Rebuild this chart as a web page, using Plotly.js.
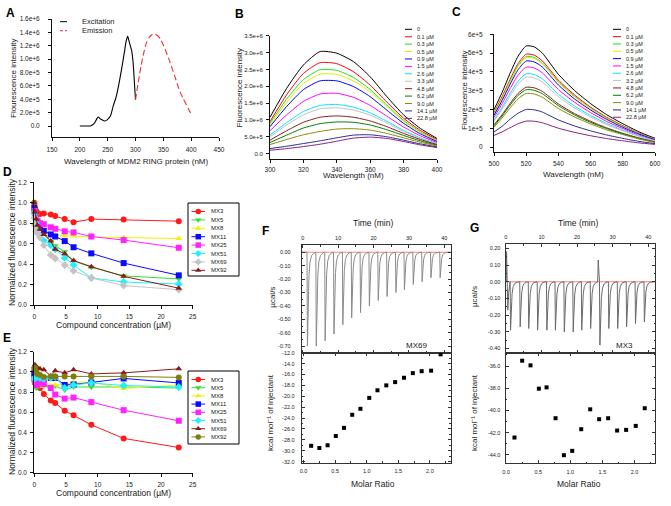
<!DOCTYPE html>
<html><head><meta charset="utf-8">
<script src="https://cdn.plot.ly/plotly-3.0.1.min.js"></script>
<style>html,body{margin:0;padding:0;background:#fff}#chart{width:671px;height:506px}</style>
</head><body><div id="chart"></div><script>
// ---------------- DATA ----------------
// Panel A (intensity in units of 1e6)
const A_exc_wl = [200,210,215,220,226,230,233,238,245,250,255,260,265,270,275,280,283,286,289,291,293,296,298,300];
const A_exc_val = [0,0,0,0.005,0.04,0.1,0.135,0.1,0.075,0.1,0.15,0.3,0.43,0.62,0.85,1.1,1.26,1.34,1.25,1.19,1.13,0.92,0.65,0.39];
const A_em_wl = [300,305,310,315,320,325,330,335,340,345,350,355,360,365,370,375,380,385,390,395,400];
const A_em_val = [0.39,0.66,0.9,1.1,1.25,1.33,1.37,1.375,1.35,1.3,1.21,1.11,1.0,0.88,0.76,0.63,0.51,0.42,0.34,0.26,0.18];
const A_xticks = [150,200,250,300,350,400,450];
const A_yticks = [0,0.2,0.4,0.6,0.8,1.0,1.2,1.4,1.6];
const A_yticktext = ["0.0","2.0e+5","4.0e+5","6.0e+5","8.0e+5","1.0e+6","1.2e+6","1.4e+6","1.6e+6"];

// Panel B (intensity in units of 1e6)
const B_wl = [300,310,320,330,340,350,360,370,380,390,400];
const B_0    = [1.08,1.94,2.63,3.03,2.98,2.73,2.28,1.69,1.15,0.75,0.45];
const B_0_1  = [0.95,1.75,2.38,2.70,2.67,2.43,2.03,1.53,1.05,0.69,0.42];
const B_0_3  = [0.90,1.62,2.20,2.49,2.47,2.26,1.90,1.44,0.99,0.65,0.39];
const B_0_5  = [0.85,1.52,2.08,2.36,2.35,2.16,1.83,1.39,0.96,0.63,0.38];
const B_0_9  = [0.80,1.40,1.90,2.16,2.16,1.99,1.69,1.29,0.90,0.59,0.36];
const B_1_5  = [0.68,1.15,1.55,1.77,1.79,1.67,1.43,1.11,0.79,0.53,0.33];
const B_2_6  = [0.55,0.92,1.25,1.43,1.46,1.38,1.21,0.96,0.69,0.47,0.30];
const B_3_3  = [0.50,0.85,1.15,1.33,1.36,1.29,1.14,0.91,0.66,0.45,0.29];
const B_4_8  = [0.40,0.68,0.93,1.08,1.12,1.08,0.97,0.80,0.60,0.42,0.27];
const B_6_2  = [0.33,0.55,0.76,0.89,0.94,0.93,0.85,0.71,0.54,0.38,0.25];
const B_9_0  = [0.27,0.42,0.56,0.66,0.73,0.74,0.70,0.60,0.47,0.34,0.23];
const B_14_1 = [0.15,0.22,0.30,0.38,0.47,0.55,0.56,0.50,0.40,0.29,0.20];
const B_22_8 = [0.10,0.15,0.21,0.28,0.37,0.46,0.49,0.45,0.36,0.26,0.18];
const B_labels = ["0","0.1 µM","0.3 µM","0.5 µM","0.9 µM","1.5 µM","2.6 µM","3.3 µM","4.8 µM","6.2 µM","9.0 µM","14.1 µM","22.8 µM"];
const B_yticks = [0,0.5,1.0,1.5,2.0,2.5,3.0,3.5];
const B_yticktext = ["0.0","5.0e+5","1.0e+6","1.5e+6","2.0e+6","2.5e+6","3.0e+6","3.5e+6"];
const B_xticks = [300,320,340,360,380,400];

// Panel C (intensity in units of 1e5)
const C_wl = [500,505,510,515,520,525,530,540,550,560,570,580,590,600];
const C_0    = [1.99,2.90,3.93,4.84,5.38,5.33,5.00,3.87,3.01,2.31,1.72,1.24,0.81,0.46];
const C_0_1  = [1.83,2.67,3.60,4.45,4.94,4.89,4.59,3.56,2.77,2.12,1.58,1.14,0.74,0.42];
const C_0_3  = [1.78,2.60,3.52,4.34,4.82,4.77,4.48,3.47,2.70,2.07,1.54,1.11,0.72,0.41];
const C_0_5  = [1.76,2.57,3.47,4.28,4.76,4.71,4.43,3.43,2.67,2.05,1.52,1.09,0.71,0.40];
const C_0_9  = [1.69,2.47,3.34,4.12,4.58,4.53,4.26,3.30,2.56,1.97,1.47,1.05,0.69,0.39];
const C_1_5  = [1.57,2.30,3.10,3.83,4.25,4.21,3.95,3.06,2.38,1.83,1.36,0.98,0.64,0.36];
const C_2_6  = [1.44,2.11,2.85,3.51,3.90,3.86,3.63,2.81,2.18,1.68,1.25,0.90,0.59,0.33];
const C_3_2  = [1.38,2.01,2.72,3.35,3.72,3.68,3.46,2.68,2.08,1.60,1.19,0.86,0.56,0.32];
const C_4_8  = [1.18,1.72,2.32,2.86,3.18,3.15,2.96,2.29,1.78,1.37,1.02,0.73,0.48,0.27];
const C_6_2  = [1.13,1.65,2.23,2.75,3.05,3.02,2.84,2.20,1.71,1.31,0.98,0.70,0.46,0.26];
const C_9_0  = [1.05,1.54,2.08,2.57,2.85,2.82,2.65,2.05,1.60,1.23,0.91,0.66,0.43,0.24];
const C_14_1 = [0.80,1.10,1.48,1.80,2.00,1.98,1.86,1.44,1.12,0.86,0.64,0.46,0.30,0.18];
const C_22_8 = [0.62,0.80,1.03,1.24,1.38,1.37,1.29,1.00,0.78,0.60,0.45,0.33,0.22,0.14];
const C_labels = ["0","0.1 µM","0.3 µM","0.5 µM","0.9 µM","1.5 µM","2.6 µM","3.2 µM","4.8 µM","6.2 µM","9.0 µM","14.1 µM","22.8 µM"];
const C_xticks = [500,520,540,560,580,600];
const C_yticks = [0,1,2,3,4,5,6];
const C_yticktext = ["0","1e+5","2e+5","3e+5","4e+5","5e+5","6e+5"];

// Panels D and E
const DE_conc = [0,0.1,0.3,0.5,0.9,1.5,2.6,3.3,4.8,6.2,9.0,14.1,22.8];
const D_MX3  = [1.0,0.95,0.92,0.90,0.89,0.895,0.885,0.87,0.84,0.81,0.84,0.835,0.82];
const D_MX5  = [1.0,0.93,0.87,0.83,0.76,0.70,0.62,0.58,0.52,0.43,0.37,0.285,0.255];
const D_MX8  = [1.0,0.90,0.82,0.78,0.74,0.71,0.69,0.69,0.675,0.675,0.665,0.66,0.65];
const D_MX11 = [0.95,0.88,0.82,0.79,0.755,0.725,0.69,0.67,0.625,0.565,0.505,0.41,0.29];
const D_MX25 = [0.92,0.88,0.85,0.82,0.80,0.79,0.76,0.745,0.72,0.71,0.67,0.635,0.56];
const D_MX51 = [0.90,0.85,0.80,0.75,0.68,0.63,0.585,0.545,0.46,0.39,0.265,0.225,0.205];
const D_MX69 = [0.85,0.78,0.72,0.70,0.66,0.585,0.49,0.455,0.39,0.335,0.265,0.19,0.15];
const D_MX92 = [1.0,0.91,0.84,0.78,0.74,0.69,0.625,0.545,0.50,0.435,0.375,0.28,0.165];
const E_MX3  = [1.0,0.92,0.88,0.85,0.84,0.78,0.715,0.69,0.615,0.57,0.475,0.34,0.25];
const E_MX5  = [0.95,0.88,0.84,0.85,0.86,0.86,0.84,0.86,0.82,0.85,0.85,0.85,0.84];
const E_MX8  = [0.95,0.90,0.88,0.87,0.86,0.86,0.865,0.87,0.875,0.895,0.90,0.835,0.87];
const E_MX11 = [0.98,0.95,0.92,0.93,0.94,0.93,0.94,0.94,0.87,0.875,0.895,0.935,0.89];
const E_MX25 = [0.93,0.90,0.88,0.87,0.89,0.88,0.84,0.775,0.735,0.745,0.70,0.62,0.515];
const E_MX51 = [0.93,0.94,0.95,0.95,0.94,0.93,0.94,0.95,0.84,0.87,0.89,0.865,0.85];
const E_MX69 = [1.05,1.07,1.05,1.04,1.03,1.02,0.96,1.01,0.99,1.02,0.98,0.99,1.03];
const E_MX92 = [1.02,1.04,1.0,0.98,0.97,0.95,0.955,0.955,0.955,0.955,0.955,0.955,0.945];
const DE_names = ["MX3","MX5","MX8","MX11","MX25","MX51","MX69","MX92"];
const DE_xticks = [0,5,10,15,20,25];
const DE_yticks = [0,0.2,0.4,0.6,0.8,1.0,1.2];
const DE_yticktext = ["0.0","0.2","0.4","0.6","0.8","1.0","1.2"];

// Panel F (ITC, MX69)
const F_inj_time = [1.2,3.7,6.2,8.7,11.2,13.7,16.2,18.7,21.2,23.7,26.2,28.6,31.1,33.6,36.1,38.7];
const F_inj_peak = [-0.70,-0.70,-0.66,-0.61,-0.54,-0.49,-0.45,-0.40,-0.36,-0.33,-0.30,-0.28,-0.24,-0.22,-0.19,-0.19];
const F_ratio = [0.12,0.25,0.38,0.51,0.64,0.77,0.90,1.04,1.17,1.31,1.45,1.59,1.73,1.87,2.02,2.17];
const F_heat  = [-29.1,-29.5,-29.0,-27.3,-25.8,-23.4,-22.3,-20.3,-18.9,-18.0,-17.4,-16.6,-15.75,-15.4,-15.3,-12.3];
const F_uticks = [0,-0.1,-0.2,-0.3,-0.4,-0.5,-0.6,-0.7];
const F_utext = ["0.00","-0.10","-0.20","-0.30","-0.40","-0.50","-0.60","-0.70"];
const F_lticks = [-12,-14,-16,-18,-20,-22,-24,-26,-28,-30,-32];
const F_ltext = ["-12.0","-14.0","-16.0","-18.0","-20.0","-22.0","-24.0","-26.0","-28.0","-30.0","-32.0"];

// Panel G (ITC, MX3)
const G_inj_time = [1.2,3.9,6.3,8.8,11.4,13.8,16.3,18.8,21.2,23.7,26.3,28.8,31.3,33.8,36.3,38.8];
const G_inj_peak = [-0.29,-0.27,-0.28,-0.29,-0.29,-0.29,-0.30,-0.30,-0.29,-0.28,-0.38,-0.28,-0.28,-0.27,-0.25,-0.24];
const G_noise_time = [0.1,0.2,0.35,0.55,0.75,0.95,25.8,25.95,26.1];
const G_noise_val  = [0.0,0.18,0.02,-0.17,-0.07,-0.04,0.0,0.13,0.0];
const G_ratio = [0.13,0.25,0.38,0.51,0.63,0.77,0.90,1.03,1.17,1.31,1.45,1.59,1.73,1.87,2.02,2.16];
const G_heat  = [-42.44,-35.52,-35.94,-38.04,-37.92,-40.7,-44.03,-43.64,-41.69,-39.9,-40.79,-40.7,-41.81,-41.75,-41.39,-39.8];
const G_uticks = [0.2,0.1,0,-0.1,-0.2,-0.3,-0.4];
const G_utext = ["0.20","0.10","0.00","-0.10","-0.20","-0.30","-0.40"];
const G_lticks = [-36,-38,-40,-42,-44];
const G_ltext = ["-36.0","-38.0","-40.0","-42.0","-44.0"];
const ITC_time_ticks = [0,10,20,30,40];
const ITC_ratio_ticks = [0,0.5,1.0,1.5,2.0];
const ITC_ratio_text = ["0.0","0.5","1.0","1.5","2.0"];

// ---------------- STYLE / BUILD ----------------
const W=671,H=506;
const FONT='Arial, "Liberation Sans", sans-serif';
const px=v=>v/W, py=v=>1-v/H;
const dx=(a,b)=>[a/W,b/W], dy=(a,b)=>[1-b/H,1-a/H];
const traces=[], annotations=[], shapes=[];
const specColors=['#000000','#ff0000','#22dd22','#e8e800','#0000ff','#ff00ff','#00e5ff','#c0c0c0','#8b1a1a','#007a00','#8a8a00','#2a2a8a','#8a1a8a'];

function line(x,y,xa,ya,color,width,extra){
  traces.push(Object.assign({x,y,xaxis:xa,yaxis:ya,mode:'lines',line:{color,width,shape:'spline',smoothing:0.6},hoverinfo:'skip',showlegend:false},extra||{}));
}
function txt(text,x,y,size,opts){
  annotations.push(Object.assign({text,x:px(x),y:py(y),xref:'paper',yref:'paper',showarrow:false,
    font:{family:FONT,size,color:'#1a1a1a'},xanchor:'center',yanchor:'middle'},opts||{}));
}
function key(x0,x1,y,color,dash,marker){
  traces.push({x:[x0,x1],y:[y,y],xaxis:'x10',yaxis:'y10',mode:'lines',line:{color,width:1,dash:dash||'solid'},hoverinfo:'skip',showlegend:false});
  if(marker) traces.push({x:[(x0+x1)/2],y:[y],xaxis:'x10',yaxis:'y10',mode:'markers',marker:marker,hoverinfo:'skip',showlegend:false});
}

// A
line(A_exc_wl,A_exc_val,'x','y','#000',1.1);
line(A_em_wl,A_em_val,'x','y','#e8322e',1.1,{line:{color:'#e8322e',width:1.1,dash:'6px,3px',shape:'spline',smoothing:0.6}});
key(60,67,21.7,'#000');
key(60,67,30.7,'#e8322e','3px,2px');
txt('Excitation',80,21.7,7.5,{xanchor:'left'});
txt('Emission',80,30.7,7.5,{xanchor:'left'});

// B
const B_series=[B_0,B_0_1,B_0_3,B_0_5,B_0_9,B_1_5,B_2_6,B_3_3,B_4_8,B_6_2,B_9_0,B_14_1,B_22_8];
B_series.forEach((s,i)=>line(B_wl,s,'x2','y2',specColors[i],1));
B_labels.forEach((lab,i)=>{const y=29.3+i*7.42; key(405,412,y,specColors[i]); txt(lab,415,y,5.5,{xanchor:'left'});});

// C
const C_series=[C_0,C_0_1,C_0_3,C_0_5,C_0_9,C_1_5,C_2_6,C_3_2,C_4_8,C_6_2,C_9_0,C_14_1,C_22_8];
C_series.forEach((s,i)=>line(C_wl,s,'x3','y3',specColors[i],1));
C_labels.forEach((lab,i)=>{const y=29.3+i*7.33; key(613,621,y,specColors[i]); txt(lab,623.5,y,5.5,{xanchor:'left'});});

// D & E
const D_series=[D_MX3,D_MX5,D_MX8,D_MX11,D_MX25,D_MX51,D_MX69,D_MX92];
const E_series=[E_MX3,E_MX5,E_MX8,E_MX11,E_MX25,E_MX51,E_MX69,E_MX92];
const D_sty=[['#ff1a1a','circle'],['#33dd33','triangle-down'],['#f2f200','triangle-up'],['#0a0aff','square'],['#ff22ff','square'],['#22f0ff','diamond'],['#c4c4c4','diamond'],['#8b1a1a','triangle-up']];
const E_sty=[['#ff1a1a','circle'],['#33dd33','triangle-down'],['#f2f200','triangle-up'],['#0a0aff','square'],['#ff22ff','square'],['#22f0ff','diamond'],['#8b1a1a','triangle-up'],['#7f7f10','circle']];
function dePanel(series,sty,xa,ya,legTop,step){
  series.forEach((s,i)=>{
    traces.push({x:DE_conc,y:s,xaxis:xa,yaxis:ya,mode:'lines+markers',line:{color:sty[i][0],width:1},
      marker:{color:sty[i][0],symbol:sty[i][1],size:6},cliponaxis:false,hoverinfo:'skip',showlegend:false});
  });
  series.forEach((s,i)=>{const y=legTop+i*step; key(191.5,205,y,sty[i][0],null,{color:sty[i][0],symbol:sty[i][1],size:5.5}); txt(DE_names[i],208.5,y,6,{xanchor:'left'});});
}
dePanel(D_series,D_sty,'x4','y4',211.5,8.4);
shapes.push({type:'rect',xref:'paper',yref:'paper',x0:px(188),x1:px(239),y0:py(203),y1:py(276),line:{color:'#000',width:1}});
dePanel(E_series,E_sty,'x5','y5',379.5,8.2);
shapes.push({type:'rect',xref:'paper',yref:'paper',x0:px(188),x1:px(239),y0:py(371),y1:py(444),line:{color:'#000',width:1}});

// ITC raw traces built from injection times/peak heights
const spikeShape=[[0,0],[0.12,1],[0.3,0.55],[0.55,0.25],[0.85,0.1],[1.3,0.035],[1.9,0.01]];
function itc(times,peaks,extraT,extraV){
  const pts=[[-0.3,0],[41.8,0]];
  times.forEach((t,i)=>spikeShape.forEach(([d,f])=>pts.push([t+d,peaks[i]*f])));
  (extraT||[]).forEach((t,i)=>pts.push([t,extraV[i]]));
  pts.sort((a,b)=>a[0]-b[0]);
  return {x:pts.map(p=>p[0]),y:pts.map(p=>p[1])};
}
const Fr=itc(F_inj_time,F_inj_peak);
traces.push({x:[-0.3,41.8],y:[0,0],xaxis:'x6',yaxis:'y6',mode:'lines',line:{color:'#ff8080',width:1},hoverinfo:'skip',showlegend:false});
traces.push({x:Fr.x,y:Fr.y,xaxis:'x6',yaxis:'y6',mode:'lines',line:{color:'#8a8a8a',width:1},hoverinfo:'skip',showlegend:false});
traces.push({x:F_ratio,y:F_heat,xaxis:'x7',yaxis:'y7',mode:'markers',marker:{color:'#000',symbol:'square',size:4},cliponaxis:false,hoverinfo:'skip',showlegend:false});
const Gr=itc(G_inj_time,G_inj_peak,G_noise_time,G_noise_val);
traces.push({x:[-0.1,41.9],y:[0,0],xaxis:'x8',yaxis:'y8',mode:'lines',line:{color:'#ff8080',width:1},hoverinfo:'skip',showlegend:false});
traces.push({x:Gr.x,y:Gr.y,xaxis:'x8',yaxis:'y8',mode:'lines',line:{color:'#6a6a6a',width:1},hoverinfo:'skip',showlegend:false});
traces.push({x:G_ratio,y:G_heat,xaxis:'x9',yaxis:'y9',mode:'markers',marker:{color:'#000',symbol:'square',size:4},cliponaxis:false,hoverinfo:'skip',showlegend:false});

// axes
function ax(domain,range,tickvals,ticktext,extra){
  return Object.assign({domain,range,tickmode:'array',tickvals,ticktext:ticktext||tickvals.map(String),showline:true,linecolor:'#111',linewidth:1,
    ticks:'outside',ticklen:3,tickwidth:1,tickcolor:'#111',showgrid:false,zeroline:false,fixedrange:true,
    tickfont:{family:FONT,size:6.5,color:'#222'}},extra||{});
}
function itcAx(domain,range,tickvals,ticktext,minor,extra){
  return ax(domain,range,tickvals,ticktext,Object.assign({ticks:'inside',ticklen:3,mirror:'ticks',linecolor:'#333',tickcolor:'#333',
    tickfont:{family:FONT,size:5.5,color:'#222'},minor:{dtick:minor,ticks:'inside',ticklen:1.5,tickcolor:'#333'}},extra||{}));
}
const layout={
  width:W,height:H,margin:{l:0,r:0,t:0,b:0},paper_bgcolor:'#fff',plot_bgcolor:'rgba(0,0,0,0)',showlegend:false,
  font:{family:FONT},
  xaxis: ax(dx(52,219),[150,450],A_xticks,null,{anchor:'y',ticklabelstandoff:3}),
  yaxis: ax(dy(19,137),[-0.164,1.6],A_yticks,A_yticktext,{anchor:'x',ticklabelstandoff:7}),
  xaxis2:ax(dx(270,437),[300,400],B_xticks,null,{anchor:'y2',ticklabelstandoff:1}),
  yaxis2:ax(dy(35.7,158.7),[-0.15,3.5],B_yticks,B_yticktext,{anchor:'x2',ticklabelstandoff:2,tickfont:{family:FONT,size:6,color:'#222'}}),
  xaxis3:ax(dx(494,655),[500,600],C_xticks,null,{anchor:'y3',ticklabelstandoff:2}),
  yaxis3:ax(dy(34.3,151.7),[-0.25,6],C_yticks,C_yticktext,{anchor:'x3',ticklabelstandoff:6}),
  xaxis4:ax(dx(34.3,192.7),[0,25],DE_xticks,null,{anchor:'y4',ticklabelstandoff:2}),
  yaxis4:ax(dy(182.3,305),[0,1.2],DE_yticks,DE_yticktext,{anchor:'x4',ticklabelstandoff:2}),
  xaxis5:ax(dx(34.3,192.7),[0,25],DE_xticks,null,{anchor:'y5',ticklabelstandoff:2}),
  yaxis5:ax(dy(351.7,472.7),[0,1.2],DE_yticks,DE_yticktext,{anchor:'x5',ticklabelstandoff:2}),
  xaxis6:itcAx(dx(301.7,450.7),[-0.3,41.8],ITC_time_ticks,null,5,{anchor:'y6',side:'top',ticklabelstandoff:2}),
  yaxis6:itcAx(dy(245,352.7),[-0.749,0.054],F_uticks,F_utext,0.05,{anchor:'x6',ticklabelstandoff:9}),
  xaxis7:itcAx(dx(301.7,450.7),[-0.03,2.33],ITC_ratio_ticks,ITC_ratio_text,0.25,{anchor:'y7',ticklabelstandoff:3}),
  yaxis7:itcAx(dy(352.7,462.7),[-32.2,-12.0],F_lticks,F_ltext,1,{anchor:'x7',ticklabelstandoff:5}),
  xaxis8:itcAx(dx(505.5,655),[-0.1,41.9],ITC_time_ticks,null,5,{anchor:'y8',side:'top',ticklabelstandoff:2}),
  yaxis8:itcAx(dy(244,352.7),[-0.425,0.226],G_uticks,G_utext,0.05,{anchor:'x8',ticklabelstandoff:3}),
  xaxis9:itcAx(dx(505.5,655),[-0.01,2.32],ITC_ratio_ticks,ITC_ratio_text,0.25,{anchor:'y9',ticklabelstandoff:3}),
  yaxis9:itcAx(dy(352.7,463.3),[-44.76,-34.8],G_lticks,G_ltext,1,{anchor:'x9',ticklabelstandoff:3}),
  xaxis10:{domain:[0,1],range:[0,W],visible:false,fixedrange:true,anchor:'y10'},
  yaxis10:{domain:[0,1],range:[H,0],visible:false,fixedrange:true,anchor:'x10'},
  annotations,shapes
};

// titles and labels
txt('Wavelength of MDM2 RING protein (nM)',136.5,162,8);
txt('Flourescence intensity',13,78,8,{textangle:-90});
txt('Wavelength (nM)',353,175,8);
txt('Fluorescence intensity',238.5,88,8,{textangle:-90});
txt('Wavelength (nM)',573,174,8);
txt('Flourescence intensity',465,90,8,{textangle:-90});
txt('Compound concentration (µM)',113,325,8.5);
txt('Normalized fluorescence intensity',12,242,8.5,{textangle:-90});
txt('Compound concentration (µM)',113,493,8.5);
txt('Normalized fluorescence intensity',12,411,8.5,{textangle:-90});
txt('Time (min)',373,223,8.5);
txt('µcal/s',271.7,297,8,{textangle:-90});
txt('kcal mol⁻¹ of injectant',270,413,8,{textangle:-90});
txt('Molar Ratio',373,484,8.5);
txt('MX69',416,345,8);
txt('Time (min)',578,223,8.5);
txt('µcal/s',474,297,8,{textangle:-90});
txt('kcal mol⁻¹ of injectant',474,413,8,{textangle:-90});
txt('Molar Ratio',579,484,8.5);
txt('MX3',624,345,8);
[['A',10,13],['B',239,14],['C',456,12],['D',7,172],['E',7,338],['F',265,231],['G',474,228]].forEach(([l,x,y])=>
  txt('<b>'+l+'</b>',x,y,12,{font:{family:FONT,size:12,color:'#000'}}));

Plotly.newPlot('chart',traces,layout,{staticPlot:true,displayModeBar:false});
</script></body></html>
